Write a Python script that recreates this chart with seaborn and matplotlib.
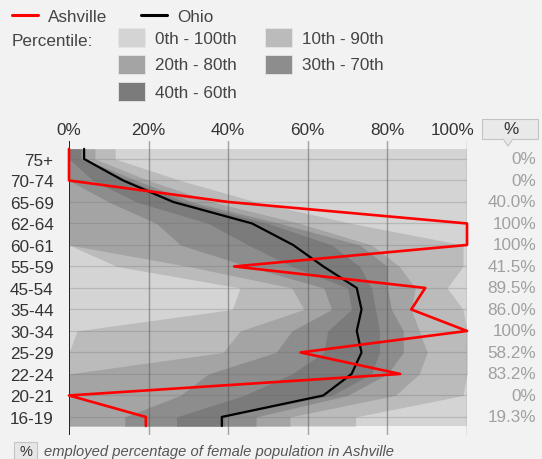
import numpy as np
import matplotlib
matplotlib.use("Agg")
import matplotlib.pyplot as plt
import matplotlib.transforms as mtransforms
from matplotlib.patches import Rectangle, Polygon
from matplotlib.lines import Line2D
import seaborn as sns

# age groups, top to bottom
age_groups = ["75+", "70-74", "65-69", "62-64", "60-61", "55-59", "45-54",
              "35-44", "30-34", "25-29", "22-24", "20-21", "16-19"]

# employed % of female population
ashville = [0, 0, 40.0, 100, 100, 41.5, 89.5, 86.0, 100, 58.2, 83.2, 0, 19.3]
ohio = [3.8, 13.6, 26.2, 46, 56.3, 63.9, 72.3, 73.5, 72.3, 73.5, 71, 63.9, 38.4]

# percentile bands across places in Ohio
p0 = [0, 0, 0, 0, 0, 0, 0, 0, 0, 0, 0, 0, 0]
p100 = [100, 100, 100, 100, 100, 100, 100, 100, 100, 100, 100, 100, 100]
p10 = [0, 0, 0, 0, 0, 12, 43, 41, 2, 0, 0, 0, 0]
p90 = [11.6, 28, 47, 71, 99, 99, 95, 99, 100, 100, 100, 99, 72]
p20 = [0, 0, 0, 0, 0, 30, 56, 59, 43, 38.7, 0, 0, 0]
p80 = [6.5, 20, 36, 58, 76, 83, 87, 86, 88, 90, 88, 82, 55.5]
p30 = [0, 0, 10, 22, 28, 45, 64, 66, 56, 52, 35, 28, 14]
p70 = [3.8, 17, 31, 53, 73, 80, 80, 81, 84, 84, 80, 70, 47]
p40 = [0, 6, 17, 35, 45, 56, 70, 71, 65, 64, 56, 44, 27]
p60 = [3.0, 15, 29, 50, 66, 73, 76, 77, 78, 78, 76, 66, 39]

x_ticks = [0, 20, 40, 60, 80, 100]

W, H = 542, 460
BG = "#f2f2f2"
TXT = "#333333"
FS = 12.3

sns.set_theme(style="white")
plt.rcParams["font.family"] = ["Liberation Sans", "DejaVu Sans"]


def fx(px):
    return px / W


def fy(py):
    return 1 - py / H


def ext(vals):
    """repeat first/last value so the profile reaches the band edges"""
    vals = list(vals)
    return np.array([vals[0]] + vals + [vals[-1]])


fig = plt.figure(figsize=(W / 100, H / 100), dpi=100, facecolor=BG)
ax = fig.add_axes([fx(69), fy(436), fx(467) - fx(69), fy(141.7) - fy(436)])
ax.set_facecolor(BG)

pos = np.arange(len(age_groups))
y_ext = np.concatenate([[pos[0] - 0.47], pos, [pos[-1] + 0.42]])

bands = [
    ("0th - 100th", p0, p100, "#d4d4d4"),
    ("10th - 90th", p10, p90, "#bbbbbb"),
    ("20th - 80th", p20, p80, "#a4a4a4"),
    ("30th - 70th", p30, p70, "#8d8d8d"),
    ("40th - 60th", p40, p60, "#7b7b7b"),
]
for name, lo, hi, col in bands:
    ax.fill_betweenx(y_ext, ext(lo), ext(hi), color=col, lw=0, zorder=1)

# row guides and grid
ax.hlines(pos, 0, 100, color="#666666", alpha=0.25, lw=0.9, zorder=2)
for xv in x_ticks[1:]:
    ax.axvline(xv, color="#555555", alpha=0.5, lw=1, zorder=2)
ax.axvline(0, color="#222222", lw=1.4, zorder=4)

sns.lineplot(x=ext(ohio), y=y_ext, orient="y", sort=False, estimator=None,
             color="black", linewidth=1.6, ax=ax, zorder=5, clip_on=False)
sns.lineplot(x=ext(ashville), y=y_ext, orient="y", sort=False, estimator=None,
             color="#ff0000", linewidth=1.9, ax=ax, zorder=6, clip_on=False)

ax.set_xlim(0, 100)
ax.set_ylim(12.84, -0.85)
ax.set_xlabel("")
ax.set_ylabel("")
ax.xaxis.tick_top()
ax.set_xticks(x_ticks)
ax.set_xticklabels([f"{v}%" for v in x_ticks])
ax.set_yticks(pos)
ax.set_yticklabels(age_groups)
ax.tick_params(axis="x", length=0, pad=3, labelsize=FS, colors=TXT)
ax.tick_params(axis="y", length=0, pad=11, labelsize=FS, colors=TXT)
for s in ax.spines.values():
    s.set_visible(False)

# keep the 100% label inside, left of the header box
last = ax.get_xticklabels()[-1]
last.set_horizontalalignment("right")
last.set_transform(last.get_transform() + mtransforms.ScaledTranslation(8 / 100, 0, fig.dpi_scale_trans))

# value column on the right
trans = mtransforms.blended_transform_factory(fig.transFigure, ax.transData)
for i, v in enumerate(ashville):
    label = f"{v:g}%" if v in (0, 100) else f"{v:.1f}%"
    ax.text(fx(536), i, label, transform=trans, ha="right", va="center",
            color="#a0a0a0", fontsize=FS)

# "%" header box
fig.add_artist(Rectangle((fx(482), fy(140)), 56 / W, 20 / H, transform=fig.transFigure,
                         facecolor="#e9e9e9", edgecolor="#c4c4c4", lw=0.8))
fig.add_artist(Polygon([(fx(503), fy(140)), (fx(513), fy(140)), (fx(508), fy(147))],
                       closed=True, transform=fig.transFigure,
                       facecolor="#e9e9e9", edgecolor="#c4c4c4", lw=0.8))
fig.add_artist(Line2D([fx(503.6), fx(512.4)], [fy(140), fy(140)], color="#e9e9e9", lw=1.2))
fig.text(fx(510.5), fy(130), "%", ha="center", va="center", fontsize=FS, color=TXT)

# legend
fig.add_artist(Line2D([fx(12), fx(38)], [fy(16), fy(16)], color="#ff0000", lw=2.2))
fig.text(fx(48), fy(17), "Ashville", ha="left", va="center", fontsize=FS, color="#444444")
fig.add_artist(Line2D([fx(141), fx(167)], [fy(16), fy(16)], color="black", lw=2.2))
fig.text(fx(177), fy(17), "Ohio", ha="left", va="center", fontsize=FS, color="#444444")
fig.text(fx(12), fy(42), "Percentile:", ha="left", va="center", fontsize=FS, color="#444444")

swatch_xy = [(118, 29), (265, 29), (118, 56), (265, 56), (118, 83)]
for (name, lo, hi, col), (sx, sy) in zip(bands, swatch_xy):
    fig.add_artist(Rectangle((fx(sx), fy(sy + 19)), 27 / W, 19 / H, transform=fig.transFigure,
                             facecolor=col, edgecolor="#e6e6e6", lw=0.6))
    fig.text(fx(sx + 37), fy(sy + 10), name, ha="left", va="center", fontsize=FS, color="#444444")

# caption
fig.add_artist(Rectangle((fx(14), fy(460)), 23 / W, 17 / H, transform=fig.transFigure,
                         facecolor="#e6e6e6", edgecolor="#c4c4c4", lw=0.8))
fig.text(fx(25.5), fy(452), "%", ha="center", va="center", fontsize=10.5, color=TXT)
fig.text(fx(44), fy(452), "employed percentage of female population in Ashville",
         ha="left", va="center", fontsize=10.6, style="italic", color="#555555")

fig.savefig("out.png", dpi=100, facecolor=BG)
